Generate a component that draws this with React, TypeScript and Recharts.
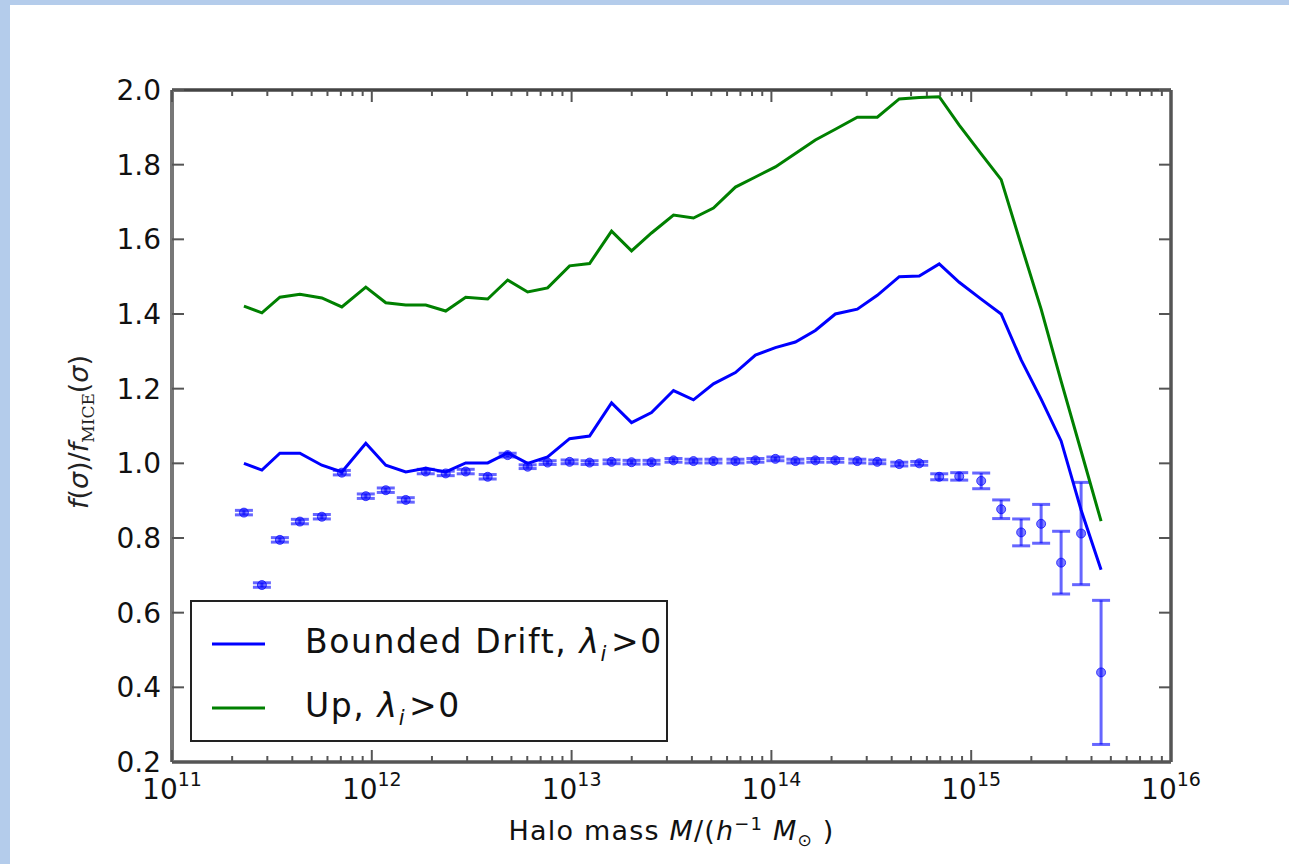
import React from "react";
import {
  ComposedChart,
  ErrorBar,
  Label,
  Legend,
  Line,
  Scatter,
  XAxis,
  YAxis,
} from "recharts";

// log10 of halo mass at each bin centre
const logMass = [
  11.36, 11.45, 11.54, 11.64, 11.75, 11.85, 11.97, 12.07, 12.17, 12.27,
  12.37, 12.47, 12.58, 12.68, 12.78, 12.88, 12.99, 13.09, 13.2, 13.3,
  13.4, 13.51, 13.61, 13.71, 13.82, 13.92, 14.02, 14.12, 14.22, 14.32,
  14.43, 14.53, 14.64, 14.74, 14.84, 14.94, 15.05, 15.15, 15.25, 15.35,
  15.45, 15.55, 15.65,
];

// bounded drift model, lambda_i > 0
const driftRatio = [
  1.0, 0.982, 1.027, 1.027, 0.995, 0.977, 1.054, 0.995, 0.977, 0.987,
  0.977, 1.001, 1.001, 1.028, 1.0, 1.017, 1.066, 1.073, 1.162, 1.109,
  1.136, 1.195, 1.17, 1.213, 1.243, 1.29, 1.31, 1.325, 1.356, 1.4,
  1.413, 1.45, 1.5, 1.502, 1.534, 1.485, 1.44, 1.4, 1.277, 1.172,
  1.06, 0.875, 0.715,
];

// up-crossing model, lambda_i > 0
const upRatio = [
  1.421, 1.403, 1.445, 1.453, 1.443, 1.419, 1.472, 1.43, 1.424, 1.424,
  1.408, 1.445, 1.44, 1.491, 1.459, 1.47, 1.529, 1.535, 1.622, 1.569,
  1.617, 1.665, 1.657, 1.684, 1.74, 1.767, 1.794, 1.83, 1.866, 1.895,
  1.927, 1.927, 1.976, 1.98, 1.982, 1.906, 1.829, 1.76, 1.585, 1.413,
  1.22, 1.033, 0.845,
];

// simulation measurements and their errors
const simRatio = [
  0.868, 0.674, 0.795, 0.844, 0.857, 0.975, 0.912, 0.928, 0.902, 0.978,
  0.973, 0.978, 0.964, 1.022, 0.991, 1.002, 1.004, 1.002, 1.004, 1.003,
  1.003, 1.008, 1.006, 1.006, 1.006, 1.008, 1.012, 1.006, 1.008, 1.008,
  1.006, 1.004, 0.998, 1.0, 0.964, 0.965, 0.953, 0.877, 0.815, 0.838,
  0.734, 0.812, 0.44,
];
const simErr = [
  0.006, 0.006, 0.006, 0.006, 0.006, 0.006, 0.006, 0.006, 0.006, 0.006,
  0.006, 0.006, 0.006, 0.005, 0.005, 0.005, 0.005, 0.005, 0.005, 0.005,
  0.005, 0.005, 0.005, 0.005, 0.005, 0.005, 0.005, 0.005, 0.005, 0.005,
  0.005, 0.005, 0.005, 0.005, 0.008, 0.01, 0.021, 0.025, 0.036, 0.052,
  0.084, 0.137, 0.193,
];

const decades = [11, 12, 13, 14, 15, 16];
const yTicks = [0.2, 0.4, 0.6, 0.8, 1.0, 1.2, 1.4, 1.6, 1.8, 2.0];

// major + minor log ticks
const xTicks: number[] = [];
decades.slice(0, -1).forEach((d) => {
  for (let k = 1; k < 10; k++) xTicks.push(d + Math.log10(k));
});
xTicks.push(16);

const rows = logMass.map((m, i) => ({
  m,
  drift: driftRatio[i],
  up: upRatio[i],
  sim: simRatio[i],
  err: simErr[i],
}));

const FONT = "'DejaVu Sans', sans-serif";
const SPINE = "#555";
const isMajor = (v: number) => Math.abs(v - Math.round(v)) < 1e-6;

const BottomTick = (props: any) => {
  const { x, y, payload } = props;
  const major = isMajor(payload.value);
  return (
    <g>
      <line x1={x} y1={y} x2={x} y2={y - (major ? 12 : 6)} stroke={SPINE} strokeWidth={2} />
      {major && (
        <text x={x} y={y + 37} textAnchor="middle" fontSize={28} fill="#111" fontFamily={FONT}>
          10
          <tspan dy={-13} fontSize={19}>
            {Math.round(payload.value)}
          </tspan>
        </text>
      )}
    </g>
  );
};

const TopTick = (props: any) => {
  const { x, y, payload } = props;
  const major = isMajor(payload.value);
  return <line x1={x} y1={y} x2={x} y2={y + (major ? 12 : 6)} stroke={SPINE} strokeWidth={2} />;
};

const LeftTick = (props: any) => {
  const { x, y, payload } = props;
  return (
    <g>
      <line x1={x} y1={y} x2={x + 12} y2={y} stroke={SPINE} strokeWidth={2} />
      <text x={x - 11} y={y + 10} textAnchor="end" fontSize={28} fill="#111" fontFamily={FONT}>
        {Number(payload.value).toFixed(1)}
      </text>
    </g>
  );
};

const RightTick = (props: any) => {
  const { x, y } = props;
  return <line x1={x} y1={y} x2={x - 12} y2={y} stroke={SPINE} strokeWidth={2} />;
};

const SimPoint = (props: any) => (
  <circle
    cx={props.cx}
    cy={props.cy}
    r={4.5}
    fill="#0000ff"
    fillOpacity={0.5}
    stroke="#0000ff"
    strokeOpacity={0.7}
    strokeWidth={1}
  />
);

const renderLegend = (props: any) => {
  const items = (props.payload || []).filter((p: any) => p.type !== "none");
  return (
    <div
      style={{
        width: 478,
        height: 142,
        boxSizing: "border-box",
        border: "2px solid #222",
        background: "#fff",
        fontFamily: FONT,
        fontSize: 33,
        letterSpacing: 1.6,
        color: "#111",
        paddingTop: 10,
      }}
    >
      {items.map((item: any) => (
        <div key={item.value} style={{ display: "flex", alignItems: "center", height: 64 }}>
          <svg width={113} height={20} style={{ flex: "none" }}>
            <line x1={20} y1={10} x2={73} y2={10} stroke={item.color} strokeWidth={3} />
          </svg>
          <span style={{ whiteSpace: "pre" }}>
            {item.value}{" "}
            <i>λ</i>
            <sub style={{ fontSize: 21, fontStyle: "italic", marginRight: 3 }}>i</sub>
            {">0"}
          </span>
        </div>
      ))}
    </div>
  );
};

const XTitle = (props: any) => {
  const { viewBox } = props;
  const cx = viewBox.x + viewBox.width / 2;
  return (
    <text
      x={cx}
      y={viewBox.y + 78}
      textAnchor="middle"
      fontSize={27}
      letterSpacing={1.2}
      fill="#111"
      fontFamily={FONT}
    >
      Halo mass <tspan fontStyle="italic">M</tspan>/(<tspan fontStyle="italic">h</tspan>
      <tspan dy={-10} fontSize={18}>−1</tspan>
      <tspan dy={10} fontStyle="italic"> M</tspan>
      <tspan dy={6} fontSize={17}>⊙</tspan>
      <tspan dy={-6}> )</tspan>
    </text>
  );
};

const YTitle = (props: any) => {
  const { viewBox } = props;
  const cy = viewBox.y + viewBox.height / 2 + 6;
  const bx = 88;
  return (
    <text
      x={bx}
      y={cy}
      transform={`rotate(-90 ${bx} ${cy})`}
      textAnchor="middle"
      fontSize={27}
      fill="#222"
      fontFamily={FONT}
    >
      <tspan fontStyle="italic">f</tspan>(<tspan fontStyle="italic">σ</tspan>)/<tspan fontStyle="italic">f</tspan>
      <tspan dy={6} fontSize={17} fontFamily="'DejaVu Serif', serif">MICE</tspan>
      <tspan dy={-6}>(</tspan>
      <tspan fontStyle="italic">σ</tspan>)
    </text>
  );
};

export default function App() {
  return (
    <div
      style={{
        position: "relative",
        width: 1289,
        height: 864,
        background: "#b4cceb",
        overflow: "hidden",
      }}
    >
      <style>{"body{margin:0}"}</style>
      <div
        style={{ position: "absolute", left: 10, top: 5, right: 0, bottom: 0, background: "#fff" }}
      />
      <div style={{ position: "absolute", left: 0, top: 0 }}>
        <ComposedChart
          width={1289}
          height={864}
          data={rows}
          margin={{ top: 89, right: 117, bottom: 42, left: 72 }}
          style={{ fontFamily: FONT }}
        >
          <XAxis
            xAxisId="bottom"
            dataKey="m"
            type="number"
            domain={[11, 16]}
            ticks={xTicks}
            interval={0}
            allowDataOverflow
            height={60}
            tickSize={0}
            tickMargin={0}
            tick={<BottomTick />}
            axisLine={{ stroke: SPINE, strokeWidth: 3.5 }}
          >
            <Label content={<XTitle />} />
          </XAxis>
          <XAxis
            xAxisId="top"
            orientation="top"
            dataKey="m"
            type="number"
            domain={[11, 16]}
            ticks={xTicks}
            interval={0}
            allowDataOverflow
            height={1}
            tickSize={0}
            tickMargin={0}
            tick={<TopTick />}
            axisLine={{ stroke: "#444", strokeWidth: 3.5 }}
          />
          <YAxis
            yAxisId="left"
            type="number"
            domain={[0.2, 2.0]}
            ticks={yTicks}
            interval={0}
            allowDataOverflow
            width={100}
            tickSize={0}
            tickMargin={0}
            tick={<LeftTick />}
            axisLine={{ stroke: "#777", strokeWidth: 4 }}
          >
            <Label content={<YTitle />} />
          </YAxis>
          <YAxis
            yAxisId="right"
            orientation="right"
            type="number"
            domain={[0.2, 2.0]}
            ticks={yTicks}
            interval={0}
            allowDataOverflow
            width={1}
            tickSize={0}
            tickMargin={0}
            tick={<RightTick />}
            axisLine={{ stroke: SPINE, strokeWidth: 3.5 }}
          />
          <Scatter
            xAxisId="bottom"
            yAxisId="left"
            dataKey="sim"
            shape={<SimPoint />}
            legendType="none"
            isAnimationActive={false}
          >
            <ErrorBar
              dataKey="err"
              direction="y"
              width={9}
              stroke="rgba(0,0,255,0.6)"
              strokeWidth={3}
              isAnimationActive={false}
            />
          </Scatter>
          <Line
            xAxisId="bottom"
            yAxisId="left"
            dataKey="drift"
            name="Bounded Drift,"
            stroke="#0000ff"
            strokeWidth={3}
            dot={false}
            activeDot={false}
            isAnimationActive={false}
          />
          {/* same domains as the bottom/left pair, so it lands in the same place */}
          <Line
            xAxisId="top"
            yAxisId="right"
            dataKey="up"
            name="Up,"
            stroke="#008000"
            strokeWidth={3}
            dot={false}
            activeDot={false}
            isAnimationActive={false}
          />
          <Legend
            layout="vertical"
            verticalAlign="middle"
            align="center"
            content={renderLegend}
            wrapperStyle={{ left: 190, top: 600, width: 478, height: 142 }}
          />
        </ComposedChart>
      </div>
    </div>
  );
}
